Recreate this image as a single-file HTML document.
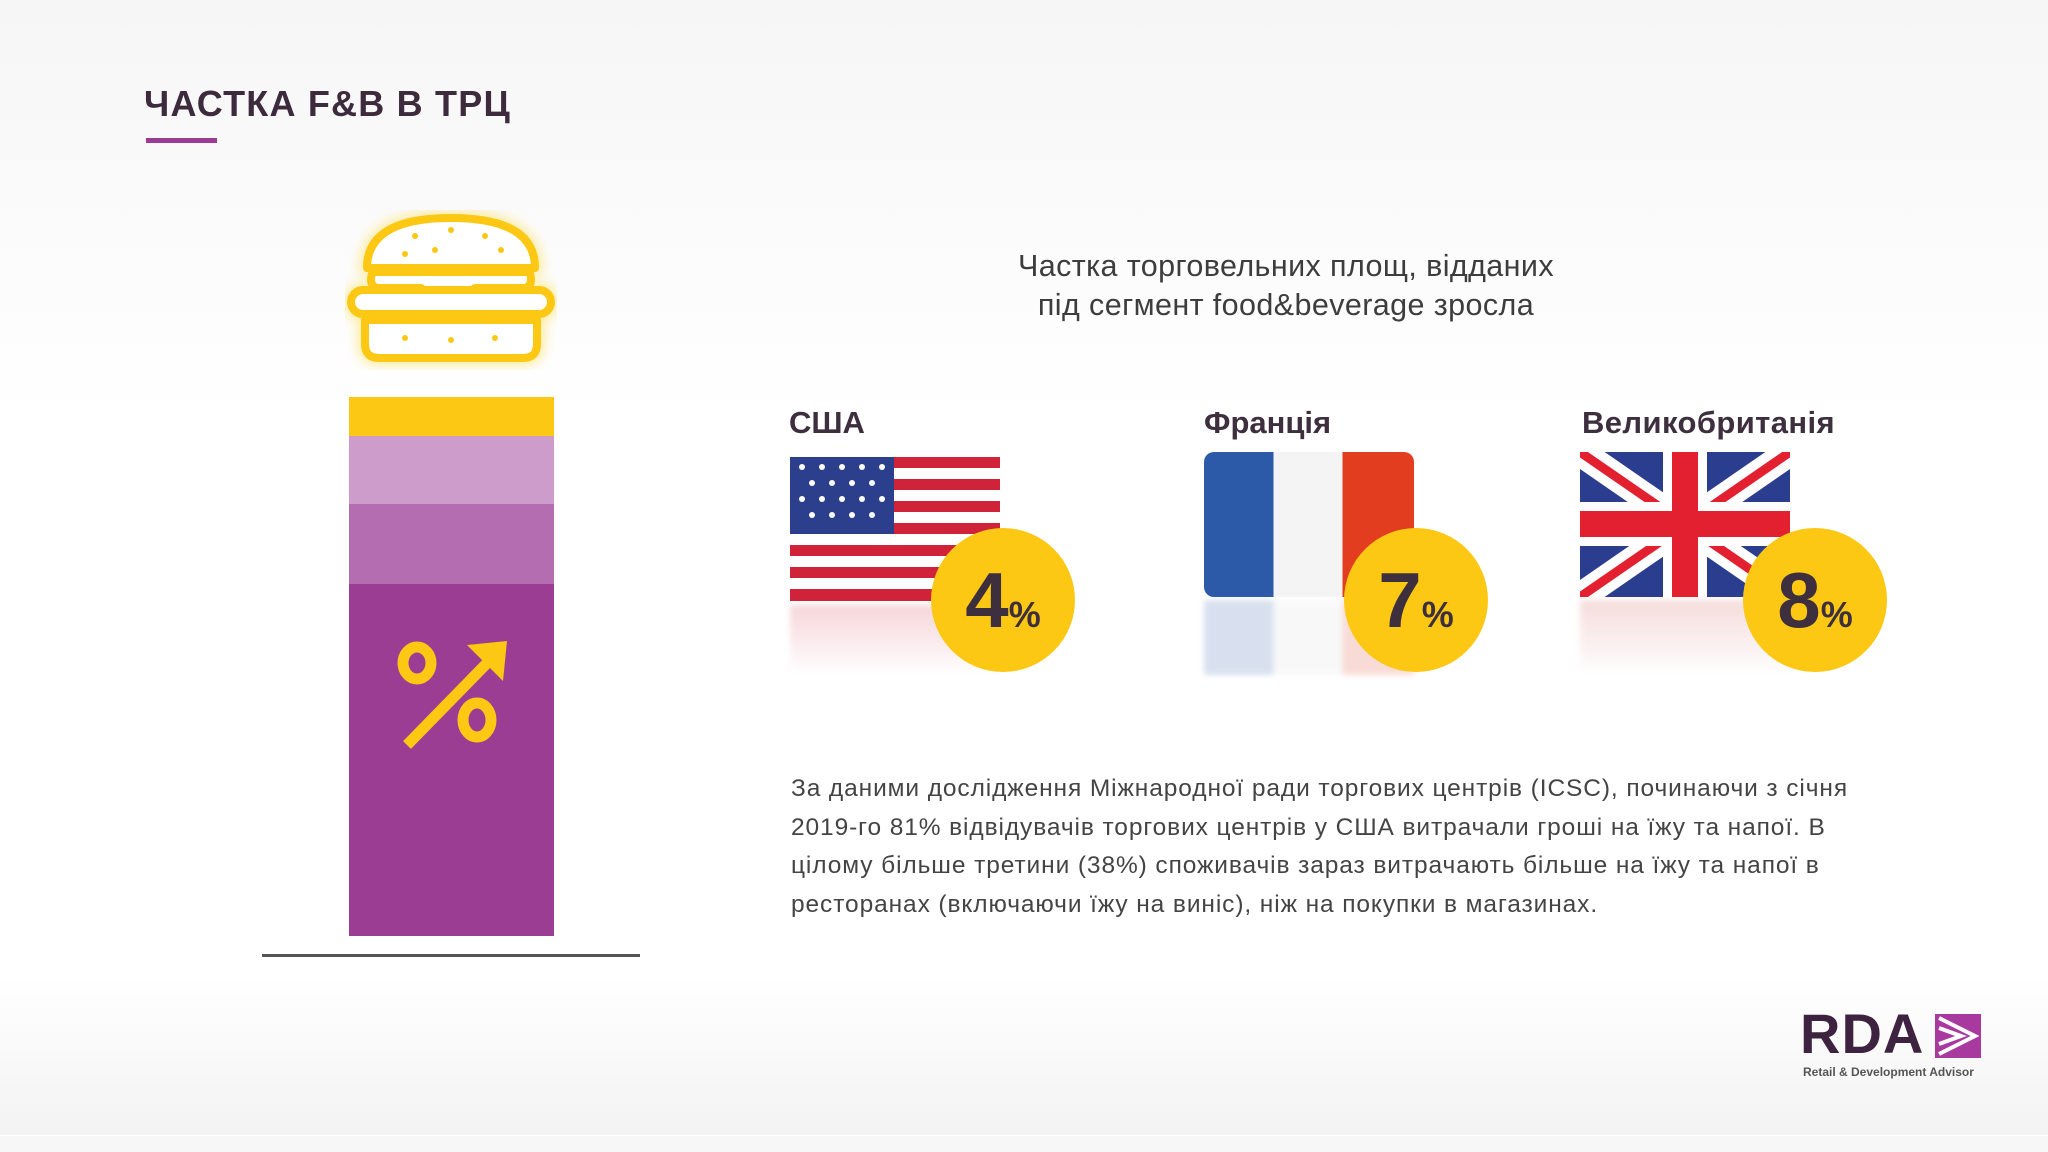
<!DOCTYPE html>
<html><head><meta charset="utf-8"><style>
*{margin:0;padding:0;box-sizing:border-box}
body{width:2048px;height:1152px;background:#fff;position:relative;overflow:hidden;font-family:"Liberation Sans","DejaVu Sans",sans-serif;color:#3f2d3f}
.a{position:absolute}
.lbl{font-weight:bold;font-size:31px;color:#3d2f3d}
.circ{position:absolute;width:144px;height:144px;border-radius:50%;background:#fcc813;text-align:center;line-height:144px;font-weight:bold;font-size:78px;color:#3d2f3d}
.circ span{font-size:36px}
.refl{position:absolute;opacity:.18;filter:blur(3px)}
</style></head><body>
<div class="a" style="left:0;top:0;width:2048px;height:420px;background:linear-gradient(#f6f6f6,#fff)"></div>
<div class="a" style="left:0;top:975px;width:2048px;height:160px;background:linear-gradient(#fff,#f3f3f3)"></div>
<div class="a" style="left:0;top:1136px;width:2048px;height:16px;background:#f7f7f7"></div>

<div class="a" style="left:144px;top:83px;font-size:36px;font-weight:bold;color:#3d2b3d;letter-spacing:1.2px">ЧАСТКА F&amp;B В ТРЦ</div>
<div class="a" style="left:146px;top:138px;width:71px;height:5px;background:#9b3b96"></div>

<svg class="a" style="left:345px;top:210px" width="212" height="160" viewBox="0 0 212 160">
<defs><filter id="g"><feGaussianBlur stdDeviation="6"/></filter></defs>
<g fill="none" stroke="#fde36a" stroke-width="14" filter="url(#g)" opacity=".7">
<path d="M22 58 Q22 8 106 8 Q190 8 190 58 Z"/><rect x="6" y="80" width="200" height="24" rx="12"/><path d="M20 110 H192 V134 Q192 148 178 148 H34 Q20 148 20 134 Z"/></g>
<g fill="#fff" stroke="#fcc813" stroke-width="8" stroke-linejoin="round">
<path d="M22 58 Q22 8 106 8 Q190 8 190 58 Z"/>
<path d="M30 62 H182 Q186 62 186 70 Q186 76 180 78 H130 L100 100 L76 78 H32 Q26 76 26 70 Q26 62 30 62Z"/>
<rect x="6" y="80" width="200" height="24" rx="12"/>
<path d="M20 110 H192 V134 Q192 148 178 148 H34 Q20 148 20 134 Z"/></g>
<g fill="#fcc813"><circle cx="70" cy="26" r="3"/><circle cx="106" cy="20" r="3"/><circle cx="140" cy="26" r="3"/><circle cx="90" cy="40" r="3"/><circle cx="156" cy="40" r="3"/><circle cx="60" cy="44" r="3"/><circle cx="60" cy="128" r="3"/><circle cx="106" cy="130" r="3"/><circle cx="150" cy="128" r="3"/></g>
</svg>

<div class="a" style="left:349px;top:397px;width:205px;height:39px;background:#fcc813"></div>
<div class="a" style="left:349px;top:436px;width:205px;height:68px;background:#cd9cca"></div>
<div class="a" style="left:349px;top:504px;width:205px;height:80px;background:#b36db0"></div>
<div class="a" style="left:349px;top:584px;width:205px;height:352px;background:#9c3d94"></div>
<svg class="a" style="left:395px;top:635px" width="120" height="115" viewBox="0 0 120 115">
<g fill="none" stroke="#fcc813" stroke-width="11"><ellipse cx="22" cy="28" rx="14" ry="16"/><ellipse cx="82" cy="85" rx="14" ry="17"/><path d="M12 110 L98 22"/></g>
<path d="M72 10 L112 6 L108 46 Z" fill="#fcc813"/>
</svg>
<div class="a" style="left:262px;top:954px;width:378px;height:3px;background:#555"></div>

<div class="a" style="left:900px;top:247px;width:772px;text-align:center;font-size:30.5px;line-height:39px;color:#3d3d3d;letter-spacing:0.4px">Частка торговельних площ, відданих<br>під сегмент food&amp;beverage зросла</div>

<div class="a lbl" style="left:789px;top:405px">США</div>
<div class="a lbl" style="left:1204px;top:405px">Франція</div>
<div class="a lbl" style="left:1582px;top:405px;letter-spacing:0.4px">Великобританія</div>

<svg class="a" style="left:790px;top:457px" width="210" height="144" viewBox="0 0 210 144">
<rect width="210" height="144" rx="8" fill="#fff"/>
<g fill="#d0233a"><rect y="0" width="210" height="11"/><rect y="22" width="210" height="11"/><rect y="44" width="210" height="11"/><rect y="66" width="210" height="11"/><rect y="88" width="210" height="11"/><rect y="110" width="210" height="11"/><rect y="132" width="210" height="12"/></g>
<rect width="104" height="77" fill="#2b3f8c"/>
<g fill="#fff"><circle cx="12" cy="10" r="3"/><circle cx="32" cy="10" r="3"/><circle cx="52" cy="10" r="3"/><circle cx="72" cy="10" r="3"/><circle cx="92" cy="10" r="3"/><circle cx="22" cy="26" r="3"/><circle cx="42" cy="26" r="3"/><circle cx="62" cy="26" r="3"/><circle cx="82" cy="26" r="3"/><circle cx="12" cy="42" r="3"/><circle cx="32" cy="42" r="3"/><circle cx="52" cy="42" r="3"/><circle cx="72" cy="42" r="3"/><circle cx="92" cy="42" r="3"/><circle cx="22" cy="58" r="3"/><circle cx="42" cy="58" r="3"/><circle cx="62" cy="58" r="3"/><circle cx="82" cy="58" r="3"/></g>
</svg>
<div class="refl" style="left:790px;top:605px;width:210px;height:70px;background:linear-gradient(#d0233a,#fff)"></div>

<div class="a" style="left:1204px;top:452px;width:210px;height:145px;border-radius:10px;overflow:hidden;background:linear-gradient(90deg,#2d5aa8 0 33%,#f4f4f4 33% 66%,#e23d1f 66%)"></div>
<div class="refl" style="left:1204px;top:600px;width:210px;height:75px;background:linear-gradient(90deg,#2d5aa8 0 33%,#ddd 33% 66%,#e23d1f 66%)"></div>

<svg class="a" style="left:1580px;top:452px" width="210" height="145" viewBox="0 0 210 145">
<rect width="210" height="145" rx="8" fill="#2a3d8f"/>
<path d="M0 0 L210 145 M210 0 L0 145" stroke="#fff" stroke-width="28"/>
<path d="M0 0 L210 145 M210 0 L0 145" stroke="#e3202f" stroke-width="9"/>
<path d="M105 0 V145 M0 72 H210" stroke="#fff" stroke-width="44"/>
<path d="M105 0 V145 M0 72 H210" stroke="#e3202f" stroke-width="26"/>
</svg>
<div class="refl" style="left:1580px;top:600px;width:210px;height:75px;background:linear-gradient(#c44,#fff)"></div>

<div class="circ" style="left:931px;top:528px">4<span>%</span></div>
<div class="circ" style="left:1344px;top:528px">7<span>%</span></div>
<div class="circ" style="left:1743px;top:528px">8<span>%</span></div>

<div class="a" style="left:791px;top:770px;width:1200px;font-size:24.5px;line-height:38.5px;color:#444;letter-spacing:0.9px">За даними дослідження Міжнародної ради торгових центрів (ICSC), починаючи з січня<br>2019-го 81% відвідувачів торгових центрів у США витрачали гроші на їжу та напої. В<br>цілому більше третини (38%) споживачів зараз витрачають більше на їжу та напої в<br>ресторанах (включаючи їжу на виніс), ніж на покупки в магазинах.</div>

<div class="a" style="left:1800px;top:1006px;font-size:56px;font-weight:bold;color:#3e2340;letter-spacing:1px;line-height:56px">RDA</div>
<svg class="a" style="left:1935px;top:1014px" width="46" height="44" viewBox="0 0 46 44">
<rect width="46" height="44" fill="#a8399f"/>
<path d="M4 4 L40 22 L4 40 M4 14 L26 22 L4 30" fill="none" stroke="#fff" stroke-width="4"/>
</svg>
<div class="a" style="left:1803px;top:1065px;font-size:12px;color:#555;font-weight:bold">Retail &amp; Development Advisor</div>
</body></html>
